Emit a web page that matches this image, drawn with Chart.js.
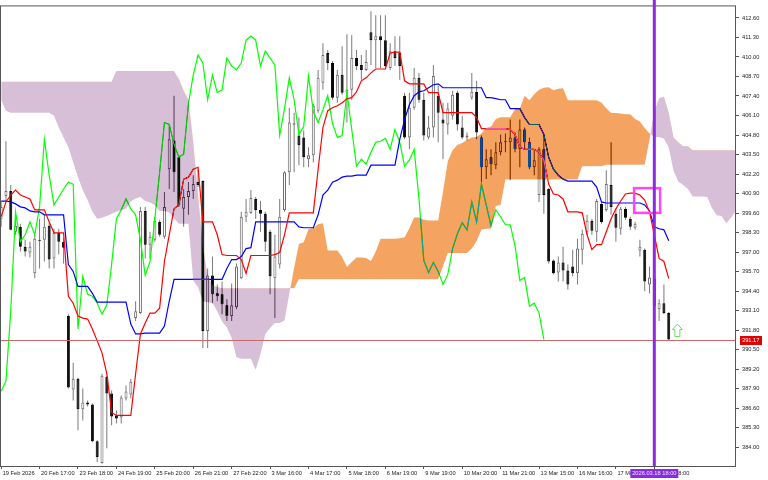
<!DOCTYPE html>
<html><head><meta charset="utf-8">
<script src="https://cdn.jsdelivr.net/npm/chart.js@4.4.1/dist/chart.umd.min.js"></script>
<style>html,body{margin:0;padding:0;background:#fff;}canvas{display:block;}</style>
</head><body>
<canvas id="c" width="768" height="480"></canvas>
<script>
const xTickIdx = [0,8,16,24,32,40,48,56,64,72,80,88,96,104,112,120,128,136];
const xTickLabels = ["19 Feb 2026","20 Feb 17:00","23 Feb 18:00","24 Feb 19:00","25 Feb 20:00","26 Feb 21:00","27 Feb 22:00","3 Mar 16:00","4 Mar 17:00","5 Mar 18:00","6 Mar 19:00","9 Mar 19:00","10 Mar 20:00","11 Mar 21:00","13 Mar 15:00","16 Mar 16:00","17 Mar 17:00","18 Mar 18:00"];
const yTicks = [412.6,411.3,410.0,408.7,407.4,406.1,404.8,403.5,402.2,400.9,399.6,398.3,397.0,395.7,394.4,393.1,391.8,390.5,389.2,387.9,386.6,385.3,384.0];

const opens = [399.22,400.74,401.07,398.35,398.68,397.36,396.97,395.58,397.82,397.82,
398.75,396.57,398.28,397.69,392.73,387.84,388.56,386.52,386.98,386.84,
384.39,382.94,388.69,387.57,386.11,385.98,387.24,387.50,392.60,392.93,
399.74,397.49,397.82,399.01,398.02,402.52,404.44,403.32,399.88,400.67,
401.07,401.66,401.73,391.74,395.44,394.25,394.18,393.46,392.73,393.32,
395.25,399.35,399.61,400.54,399.81,399.55,398.35,395.25,396.17,399.81,
402.32,405.56,404.77,404.64,403.19,403.45,406.42,408.28,410.26,409.60,
407.29,408.81,407.62,407.81,409.93,409.47,409.14,411.65,411.12,411.39,
411.12,409.27,410.39,410.26,407.42,404.64,406.62,408.61,407.15,404.64,
405.30,407.42,405.83,405.50,406.09,407.62,405.30,404.64,407.29,407.68,
404.64,402.65,403.32,402.79,403.65,404.31,404.31,404.64,403.85,405.17,
404.31,402.65,400.80,403.85,401.20,396.44,395.64,396.30,395.77,396.04,
395.58,397.16,398.35,399.08,398.35,400.21,399.81,401.46,399.55,398.55,
399.88,399.22,398.62,397.10,397.16,394.84,395.25,393.19,393.59,392.93];
const highs = [400.34,404.38,401.46,399.48,398.88,397.82,397.69,398.15,399.22,399.48,
399.01,398.55,398.55,397.95,392.86,389.62,388.63,387.90,387.11,386.91,
384.46,388.89,388.76,387.77,386.44,387.44,388.10,388.56,393.72,400.01,
400.01,398.35,399.35,399.15,401.00,405.43,407.42,403.45,401.20,401.66,
402.12,402.52,401.79,395.91,396.70,394.84,395.04,393.85,394.91,396.24,
399.68,400.54,401.13,400.67,400.40,399.68,398.48,398.15,400.54,402.39,
406.62,406.29,405.96,405.10,403.98,406.89,409.14,410.92,410.46,409.73,
409.14,410.72,411.52,411.45,410.46,410.13,410.46,413.04,412.78,412.78,
412.78,410.92,411.39,411.39,407.62,407.62,409.27,408.94,407.62,406.09,
409.47,408.08,406.95,406.95,407.75,407.75,406.09,404.97,408.94,408.41,
404.77,403.85,403.85,404.31,404.84,404.90,405.83,404.97,405.83,405.30,
404.64,403.78,403.98,404.77,401.26,396.50,396.70,397.36,396.17,397.16,
397.89,398.48,399.48,399.22,400.54,400.34,402.45,404.31,399.88,400.01,
400.01,399.35,399.01,397.82,397.23,396.04,395.38,393.85,394.84,393.00];
const lows = [398.68,400.34,398.45,398.15,397.03,396.70,396.64,395.25,395.91,396.37,
395.91,395.91,396.83,396.24,387.90,387.11,385.12,385.78,386.71,384.33,
383.01,382.91,383.93,385.45,385.58,385.58,387.11,387.24,392.40,392.86,
396.57,396.57,397.69,398.02,397.89,401.20,401.00,400.01,398.68,399.48,
400.54,401.33,390.61,390.61,393.59,393.72,392.86,392.40,392.40,393.19,
395.18,399.01,399.55,399.22,398.35,397.03,394.18,392.60,395.91,399.68,
401.46,402.32,402.79,402.65,402.65,402.99,406.29,407.81,409.14,407.15,
406.95,407.48,405.63,407.15,409.14,408.48,409.07,409.47,409.27,409.27,
409.34,409.14,409.40,408.48,404.51,403.85,406.49,406.95,404.44,404.51,
404.64,404.31,403.19,404.84,405.83,405.10,404.51,404.44,407.15,404.51,
401.66,401.86,402.12,402.52,403.45,403.65,401.79,403.65,402.65,403.85,
402.52,402.12,400.34,399.55,396.24,395.51,395.04,395.04,394.51,395.38,
394.84,396.17,398.15,398.15,397.69,398.88,399.68,399.48,397.69,398.15,
399.15,398.48,398.48,396.70,394.38,394.25,393.26,392.40,392.86,391.08];
const closes = [400.01,401.07,398.48,398.75,397.36,397.03,397.36,397.89,397.75,398.68,
396.50,398.28,397.69,397.29,387.97,388.56,386.52,386.98,386.84,384.39,
383.34,388.76,387.57,386.04,385.91,387.31,387.70,388.36,393.06,399.74,
397.49,398.02,399.08,398.15,400.01,404.51,402.32,400.14,400.67,401.07,
401.53,401.46,391.74,395.44,394.18,394.05,393.52,392.73,393.46,396.04,
399.35,399.68,400.60,399.81,399.55,397.69,395.38,396.70,399.35,402.32,
405.63,405.50,404.11,403.32,403.45,406.75,408.61,410.13,409.60,407.29,
408.81,407.62,407.81,409.93,409.40,409.14,409.67,411.12,411.39,411.12,
409.40,410.39,409.93,409.40,404.64,406.62,408.61,407.15,404.77,405.30,
408.74,406.29,405.56,406.56,407.48,405.50,404.64,404.77,407.68,404.97,
402.65,403.19,402.85,403.65,404.31,404.38,404.64,403.85,405.17,404.31,
402.65,403.12,403.85,400.80,396.37,395.58,396.30,395.77,394.84,395.58,
397.23,398.22,399.08,398.42,400.40,399.01,401.53,400.01,398.62,399.88,
399.28,398.68,398.88,397.36,395.04,395.31,393.39,393.59,392.93,391.17];

const tenkan = [399.35,400.34,400.80,401.13,400.80,400.67,400.54,399.81,399.81,399.81,
399.01,398.28,398.28,398.28,394.05,393.59,392.73,392.60,392.53,391.87,
391.08,390.28,388.89,386.31,386.11,386.11,386.11,386.11,388.89,391.54,
392.27,392.93,392.93,393.26,396.37,398.15,399.88,400.14,401.86,401.99,
402.52,402.65,399.01,399.01,399.01,398.15,396.83,396.77,396.77,396.77,
396.50,395.58,396.77,396.77,396.77,396.77,396.77,396.83,396.97,398.15,
399.61,399.61,399.61,399.61,399.61,399.61,402.52,405.30,406.42,406.62,
406.75,406.95,407.22,407.29,407.68,408.41,408.61,408.94,409.20,409.20,
409.20,410.26,410.33,410.33,408.41,408.21,408.21,408.21,408.21,407.62,
407.62,407.62,406.29,406.29,406.29,406.29,406.29,406.29,406.29,405.96,
405.23,405.23,405.23,405.23,405.23,405.23,405.17,404.84,403.98,403.85,
403.85,403.85,403.65,403.12,401.53,400.87,400.80,400.54,399.68,399.68,
399.68,399.61,398.15,397.16,397.49,397.49,398.35,399.22,399.88,400.40,
400.87,400.93,400.93,400.80,400.47,399.68,398.15,396.57,396.37,395.25];
const kijun = [400.40,400.40,400.34,400.21,400.01,399.94,399.74,399.68,399.68,399.48,
399.48,399.48,399.48,399.48,396.17,395.71,394.71,394.71,394.71,394.25,
393.66,393.66,393.66,393.66,393.66,393.66,393.66,392.20,391.54,391.54,
391.60,391.60,391.60,391.60,392.07,393.72,395.18,395.18,395.18,395.18,
395.18,395.18,395.18,395.18,395.18,395.18,395.18,395.91,396.50,396.50,
396.70,397.23,397.29,399.01,399.01,399.01,399.01,399.01,399.01,399.01,
399.01,399.01,398.68,398.62,398.62,398.62,399.48,400.80,401.13,401.66,
401.79,401.99,402.06,402.06,402.12,402.12,402.12,402.79,402.79,402.79,
402.79,402.79,402.79,404.51,405.83,406.82,407.42,407.68,407.75,407.95,
408.15,408.21,407.95,407.95,407.95,407.95,407.95,407.95,407.95,407.95,
407.95,407.29,407.29,407.22,407.15,407.15,406.56,406.56,406.56,405.96,
405.50,405.50,405.50,404.84,403.32,402.52,402.12,401.86,401.73,401.73,
401.73,401.73,401.73,401.73,401.33,400.34,400.27,400.27,400.27,400.27,
400.27,400.27,400.27,400.27,400.14,399.74,398.68,398.55,398.48,397.76];
const chikou = [387.72,388.40,393.06,399.68,397.69,398.15,399.01,398.15,400.01,404.51,
402.12,400.14,400.67,401.20,401.66,401.53,391.87,395.38,394.18,394.05,
393.59,392.86,393.46,396.17,399.22,399.81,400.54,399.88,399.48,397.82,
395.44,396.37,399.22,402.32,405.63,405.50,404.18,403.32,403.52,406.89,
408.81,410.13,409.60,407.15,408.81,407.62,407.81,409.93,409.40,409.14,
409.60,411.12,411.39,411.12,409.40,410.39,409.93,409.47,404.77,406.56,
408.61,407.15,404.84,405.37,408.74,406.36,405.63,406.49,407.42,405.56,
404.64,404.77,407.62,405.17,402.72,403.19,402.85,403.65,404.31,404.38,
404.57,403.85,405.17,404.31,402.72,403.12,403.85,400.54,396.44,395.64,
396.30,395.71,394.84,395.51,397.23,398.22,398.95,398.48,400.34,399.01,
401.53,400.14,398.75,399.81,399.35,398.82,398.82,397.43,395.11,395.31,
393.39,393.59,392.93,391.17];
const spanA = [407.15,406.42,406.29,406.29,406.29,406.29,406.29,406.29,406.29,406.29,
406.29,406.09,405.30,404.64,403.98,402.99,401.99,401.13,400.47,399.68,
399.22,399.28,399.41,399.55,399.68,399.81,399.88,400.37,400.57,400.67,
400.40,400.31,400.14,399.74,399.74,399.64,399.25,398.88,398.88,398.88,
395.11,394.65,393.72,393.66,393.62,393.06,392.37,391.97,391.27,389.98,
389.88,389.88,389.88,389.16,390.21,391.54,391.94,392.27,392.27,392.43,
394.22,395.94,397.53,397.66,398.52,398.59,398.85,398.92,397.10,397.10,
397.10,396.67,396.01,396.34,396.63,396.63,396.60,396.40,397.03,397.89,
397.89,397.89,397.89,397.92,397.99,398.59,399.31,399.31,399.15,399.11,
399.11,399.11,401.00,403.05,403.78,404.14,404.27,404.47,404.64,404.67,
404.90,405.27,405.37,405.86,405.99,405.99,405.99,406.52,406.56,407.42,
407.12,407.52,407.81,407.95,407.98,407.78,407.88,407.91,407.12,407.12,
407.12,407.12,407.12,407.12,407.12,406.95,406.59,406.26,406.26,406.23,
406.19,406.19,405.86,405.70,405.27,404.90,404.67,404.67,404.57,403.98,
402.42,401.70,401.46,401.20,400.70,400.70,400.70,400.67,399.94,399.45,
399.41,398.92,399.31,399.74];
const spanB = [408.35,408.35,408.35,408.35,408.35,408.35,408.35,408.35,408.35,408.35,
408.35,408.35,408.35,408.35,408.35,408.35,408.35,408.35,408.35,408.35,
408.35,408.35,408.35,408.35,409.07,409.07,409.07,409.07,409.07,409.07,
409.07,409.07,409.07,409.07,409.07,409.07,409.07,408.54,407.75,407.15,
404.31,400.80,397.36,395.38,394.78,394.65,394.58,394.58,394.58,394.58,
394.58,394.58,394.58,394.58,394.58,394.58,394.58,394.58,394.58,394.58,
394.58,394.58,395.18,395.18,395.18,395.18,395.18,395.18,395.18,395.18,
395.18,395.18,395.18,395.18,395.18,395.18,395.18,395.18,395.18,395.18,
395.18,395.18,395.18,395.18,395.18,395.18,395.18,395.18,395.18,395.18,
395.18,395.18,396.04,396.93,396.93,396.93,396.93,396.93,397.23,397.72,
398.48,398.55,398.55,400.07,400.14,401.83,401.83,401.83,401.83,401.83,
401.83,401.83,401.83,401.83,401.83,401.83,401.83,401.83,401.83,401.83,
401.83,402.72,402.72,402.72,402.72,402.72,402.82,402.82,402.82,402.82,
402.82,402.82,402.82,402.82,402.82,404.47,406.36,407.25,407.35,406.29,
404.64,404.31,404.05,404.05,403.78,403.78,403.78,403.78,403.78,403.78,
403.78,403.78,403.78,403.78];

const lastPrice = 391.17;
const markIdx = 136;
const markLabel = "2026.03.18 18:00";
const markBox = {x0: 131.8, x1: 137.2, y0: 399.61, y1: 401.26};
const arrowAt = {x: 140.8, y: 392.20};

const FONT = {family: '"Liberation Sans", Arial, sans-serif', size: 5.7};
const pts = arr => arr.map((v, i) => ({x: i, y: v}));

const bg = {id: 'bg', beforeDraw(c) {
  const ctx = c.ctx; ctx.save(); ctx.fillStyle = '#ffffff'; ctx.fillRect(0, 0, c.width, c.height); ctx.restore();
}};
const blend = {id: 'blend', afterDatasetDraw(c, args) {
  if (args.index === 1) c.ctx.globalCompositeOperation = 'difference';
  if (args.index === 0) c.ctx.globalCompositeOperation = 'source-over';
}};
const annot = {id: 'annot', afterDraw(c) {
  const ctx = c.ctx, xs = c.scales.x, ys = c.scales.y, a = c.chartArea;
  ctx.save();
  ctx.globalCompositeOperation = 'source-over';
  ctx.strokeStyle = '#555'; ctx.lineWidth = 1;
  ctx.strokeRect(0.5, a.top - 0.5, a.right, a.bottom - a.top + 1);
  const py = Math.round(ys.getPixelForValue(lastPrice)) + 0.5;
  ctx.strokeStyle = '#c86868'; ctx.lineWidth = 1;
  ctx.beginPath(); ctx.moveTo(a.left, py); ctx.lineTo(a.right, py); ctx.stroke();
  const bx0 = xs.getPixelForValue(markBox.x0), bx1 = xs.getPixelForValue(markBox.x1);
  const by0 = ys.getPixelForValue(markBox.y1), by1 = ys.getPixelForValue(markBox.y0);
  ctx.strokeStyle = '#ff44ff'; ctx.lineWidth = 2.5;
  ctx.strokeRect(bx0, by0, bx1 - bx0, by1 - by0);
  const vx = xs.getPixelForValue(markIdx);
  ctx.strokeStyle = '#8a2be2'; ctx.lineWidth = 3;
  ctx.beginPath(); ctx.moveTo(vx, 0); ctx.lineTo(vx, a.bottom); ctx.stroke();
  const ax = xs.getPixelForValue(arrowAt.x), ay = ys.getPixelForValue(arrowAt.y);
  ctx.strokeStyle = '#66dd66'; ctx.fillStyle = '#ffffff'; ctx.lineWidth = 1;
  ctx.beginPath();
  ctx.moveTo(ax, ay); ctx.lineTo(ax + 5, ay + 5.5); ctx.lineTo(ax + 2.5, ay + 5.5);
  ctx.lineTo(ax + 2.5, ay + 12.5); ctx.lineTo(ax - 2.5, ay + 12.5); ctx.lineTo(ax - 2.5, ay + 5.5);
  ctx.lineTo(ax - 5, ay + 5.5); ctx.closePath(); ctx.fill(); ctx.stroke();
  ctx.font = '5.7px "Liberation Sans", Arial, sans-serif';
  ctx.fillStyle = '#e00000'; ctx.fillRect(a.right + 5, py - 4.5, 22, 9);
  ctx.fillStyle = '#ffffff'; ctx.textAlign = 'left'; ctx.textBaseline = 'middle';
  ctx.fillText(lastPrice.toFixed(2), a.right + 7, py);
  ctx.fillStyle = '#8a2be2'; ctx.fillRect(vx - 24, a.bottom + 3, 48, 9);
  ctx.fillStyle = '#f0e8ff'; ctx.textAlign = 'center';
  ctx.fillText(markLabel, vx, a.bottom + 7.5);
  ctx.restore();
}};

const bull = opens.map((o, i) => closes[i] >= o);

new Chart(document.getElementById('c'), {
  type: 'line',
  data: {datasets: [
    {type: 'line', label: 'Senkou Span A', data: pts(spanA), borderColor: 'rgba(0,0,0,0)', borderWidth: 0, pointRadius: 0,
     fill: {target: 1, above: 'rgb(11,91,159)', below: 'rgb(39,64,39)'}, order: 0},
    {type: 'line', label: 'Senkou Span B', data: pts(spanB), borderColor: 'rgba(0,0,0,0)', borderWidth: 0, pointRadius: 0, fill: false, order: 1},
    {type: 'line', label: 'Tenkan-sen', data: pts(tenkan), borderColor: '#ff0000', borderWidth: 1.2, pointRadius: 0, fill: false, order: 2},
    {type: 'line', label: 'Kijun-sen', data: pts(kijun), borderColor: '#0000ff', borderWidth: 1.2, pointRadius: 0, fill: false, order: 3},
    {type: 'line', label: 'Chikou Span', data: pts(chikou), borderColor: '#00ff00', borderWidth: 1.2, pointRadius: 0, fill: false, order: 4},
    {type: 'bar', label: 'Body', data: opens.map((o, i) => ({x: i, y: [o, closes[i]]})),
     backgroundColor: bull.map(b => b ? '#ffffff' : '#000000'), borderColor: bull.map(b => b ? '#6e6e6e' : '#000000'),
     borderWidth: 1, borderSkipped: false, barThickness: 3, grouped: false, inflateAmount: 0, order: 5},
    {type: 'bar', label: 'Wick', data: highs.map((h, i) => ({x: i, y: [lows[i], h]})),
     backgroundColor: '#7a7a7a', borderWidth: 0, barThickness: 1, grouped: false, inflateAmount: 0, order: 6}
  ]},
  options: {
    responsive: false, animation: false, devicePixelRatio: 1,
    layout: {padding: {top: 3, left: 1, right: 0, bottom: 0}},
    plugins: {legend: {display: false}, tooltip: {enabled: false}},
    scales: {
      x: {type: 'linear', min: -0.03, max: 152.8, offset: false,
        grid: {display: true, drawOnChartArea: false, drawTicks: true, tickLength: 3, color: '#555', offset: false},
        border: {display: false},
        ticks: {autoSkip: false, maxRotation: 0, minRotation: 0, align: 'start', labelOffset: 1.5, padding: 1, color: '#222', font: FONT,
          callback: (v, i) => xTickLabels[i]},
        afterBuildTicks: s => { s.ticks = xTickIdx.map(v => ({value: v})); },
        afterFit: s => { s.height = 14; }
      },
      y: {type: 'linear', position: 'right', min: 382.74, max: 413.37, beginAtZero: false,
        grid: {display: true, drawOnChartArea: false, drawTicks: true, tickLength: 4, color: '#555'},
        border: {display: false},
        ticks: {autoSkip: false, padding: 3, color: '#222', font: FONT, callback: v => Number(v).toFixed(2)},
        afterBuildTicks: s => { s.ticks = yTicks.map(v => ({value: v})); },
        afterFit: s => { s.width = 33; }
      }
    }
  },
  plugins: [bg, blend, annot]
});
</script>
</body></html>
